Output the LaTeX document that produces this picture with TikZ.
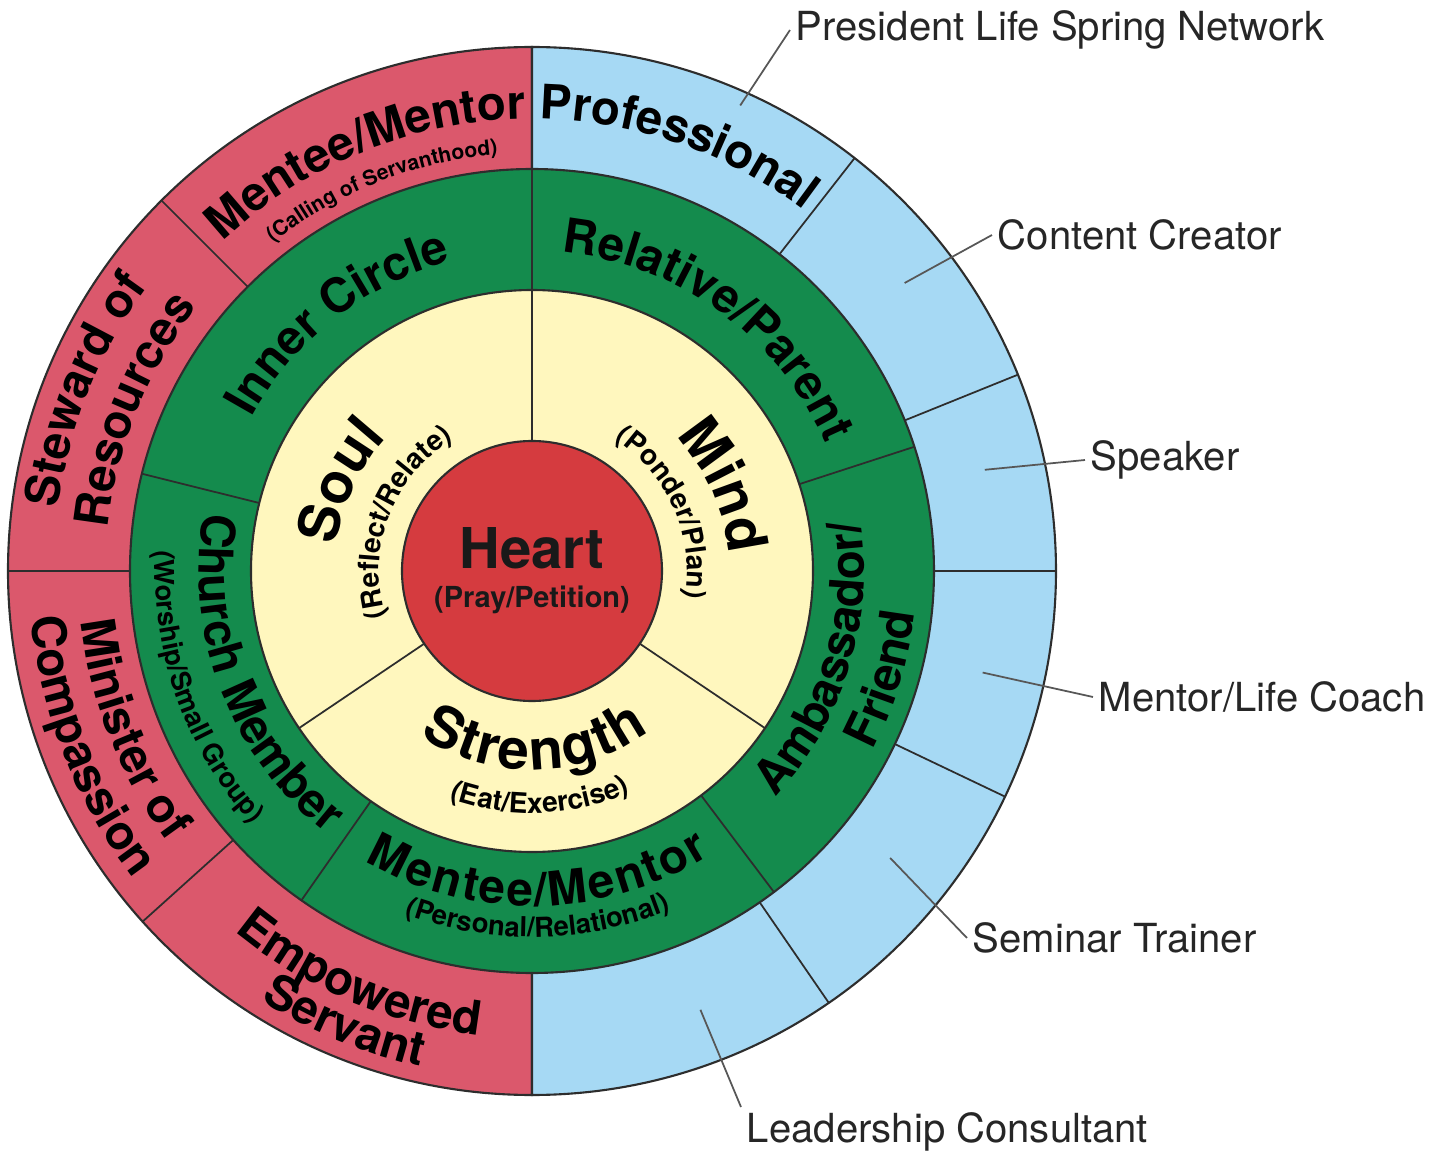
\documentclass[tikz,border=0pt]{standalone}
\usepackage{fontspec}
\setmainfont{TeX Gyre Heros}
\usetikzlibrary{decorations.text}

\definecolor{ringred}{RGB}{219,88,108}
\definecolor{ringblue}{RGB}{166,217,244}
\definecolor{ringgreen}{RGB}{20,139,77}
\definecolor{ringyellow}{RGB}{255,247,190}
\definecolor{heartred}{RGB}{213,59,63}
\definecolor{inkline}{RGB}{45,45,45}

\def\rheart{1.30}
\def\ryellow{2.81}
\def\rgreen{4.02}
\def\router{5.24}

\newcommand{\ringbold}{\bfseries\fontsize{13.5}{15}\selectfont}
\newcommand{\ringsmall}{\bfseries\fontsize{6}{7}\selectfont}
\newcommand{\greensmall}{\bfseries\fontsize{7.8}{9}\selectfont}
\newcommand{\corebold}{\bfseries\fontsize{16}{18}\selectfont}
\newcommand{\coresmall}{\bfseries\fontsize{8}{9.5}\selectfont}
\newcommand{\calltext}{\fontsize{11.4}{13}\selectfont}

\begin{document}
\begin{tikzpicture}
		\tikzstyle{divider}=[draw=inkline,line width=0.5pt]
		\tikzstyle{rim}=[draw=inkline,line width=0.6pt]
		\tikzstyle{pointer line}=[draw=inkline!80,line width=0.5pt]
		\tikzstyle{role}=[anchor=west,inner sep=1.5pt,font=\calltext,text=black!85]
		\tikzstyle{core}=[inner sep=0pt,text=black!90]
		\tikzset{arc text/.style={decorate,decoration={text along path,text align=center,text={#1}}}}

		\useasboundingbox (-5.32,-5.80) rectangle (9.13,5.71);

			% Draw the two outer halves
		\path[rim,fill=ringred] (90:\router) arc[start angle=90,end angle=270,radius=\router] -- cycle;
		\path[rim,fill=ringblue] (-90:\router) arc[start angle=-90,end angle=90,radius=\router] -- cycle;

			% Draw the inner rings
		\path[rim,fill=ringgreen] (0,0) circle (\rgreen);
		\path[rim,fill=ringyellow] (0,0) circle (\ryellow);

			% Split the rings
		\foreach \a in {90,214,-34}
		\draw[divider] (\a:\rheart) -- (\a:\ryellow);
		\foreach \a in {90,166,235,-53,18}
		\draw[divider] (\a:\ryellow) -- (\a:\rgreen);
		\foreach \a in {90,135,180,222,270,52,22,0,-25.5,-55.5}
		\draw[divider] (\a:\rgreen) -- (\a:\router);

			% Draw the heart
		\node[circle,rim,fill=heartred,minimum size=2.6cm,inner sep=0pt] (heart) at (0,0) {};
		\node[core,anchor=base,font=\corebold] (heart-title) at (0,0.03) {Heart};
		\node[core,anchor=base,font=\coresmall,scale=1.03] (heart-sub) at (0,-0.37) {(Pray/Petition)};

			% Outer ring, left half
		\path[arc text={|\ringbold|Mentee/Mentor}] (157:4.52) arc[start angle=157,end angle=67,radius=4.52];
		\path[arc text={|\ringsmall|(Calling of Servanthood)}] (156.5:4.18) arc[start angle=156.5,end angle=66.5,radius=4.18];
		\path[arc text={|\ringbold|Steward of}] (203:4.78) arc[start angle=203,end angle=113,radius=4.78];
		\path[arc text={|\ringbold|Resources}] (203:4.26) arc[start angle=203,end angle=113,radius=4.26];
		\path[arc text={|\ringbold|Minister of}] (151.5:4.54) arc[start angle=151.5,end angle=251.5,radius=4.54];
		\path[arc text={|\ringbold|Compassion}] (151.5:5.03) arc[start angle=151.5,end angle=251.5,radius=5.03];
		\path[arc text={|\ringbold|Empowered}] (197:4.67) arc[start angle=197,end angle=297,radius=4.67];
		\path[arc text={|\ringbold|Servant}] (197.5:5.08) arc[start angle=197.5,end angle=297.5,radius=5.08];

			% Outer ring, right half
		\path[arc text={|\ringbold|Professional}] (116:4.52) arc[start angle=116,end angle=26,radius=4.52];

			% Green ring
		\path[arc text={|\ringbold|Inner Circle}] (178:3.20) arc[start angle=178,end angle=78,radius=3.20];
		\path[arc text={|\ringbold|Relative/Parent}] (104:3.20) arc[start angle=104,end angle=4,radius=3.20];
		\path[arc text={|\ringbold|Ambassador/}] (-67:3.32) arc[start angle=-67,end angle=33,radius=3.32];
		\path[arc text={|\ringbold|Friend}] (-67:3.85) arc[start angle=-67,end angle=33,radius=3.85];
		\path[arc text={|\ringbold|Mentee/Mentor},decoration={raise=-0.28cm}] (221:3.07) arc[start angle=221,end angle=321,radius=3.07];
		\path[arc text={|\greensmall|(Personal/Relational)}] (221:3.66) arc[start angle=221,end angle=321,radius=3.66];
		\path[arc text={|\ringbold|Church Member}] (151:3.33) arc[start angle=151,end angle=251,radius=3.33];
		\path[arc text={|\greensmall|(Worship/Small Group)}] (149.5:3.77) arc[start angle=149.5,end angle=249.5,radius=3.77];

			% Yellow ring
		\path[arc text={|\corebold|Soul}] (215:1.97) arc[start angle=215,end angle=95,radius=1.97];
		\path[arc text={|\coresmall|(Reflect/Relate)}] (229:1.53) arc[start angle=229,end angle=89,radius=1.53];
		\path[arc text={|\corebold|Mind}] (84:1.97) arc[start angle=84,end angle=-36,radius=1.97];
		\path[arc text={|\coresmall|(Ponder/Plan)}] (94:1.55) arc[start angle=94,end angle=-46,radius=1.55];
		\path[arc text={|\corebold|Strength},decoration={raise=-0.13cm}] (211:1.86) arc[start angle=211,end angle=331,radius=1.86];
		\path[arc text={|\coresmall|(Eat/Exercise)}] (212:2.42) arc[start angle=212,end angle=332,radius=2.42];

			% Pin points inside the blue segments
		\foreach \name / \a / \r in {1/65.9/5.10,2/37.7/4.71,3/12.6/4.64,4/-12.7/4.62,5/-38.7/4.59,6/-69/4.70}
		\coordinate (P-\name) at (\a:\r);

			% Roles outside the circle
		\node[role] (R-1) at (2.58,5.41) {President Life Spring Network};
		\node[role] (R-2) at (4.60,3.36) {Content Creator};
		\node[role] (R-3) at (5.53,1.11) {Speaker};
		\node[role] (R-4) at (5.61,-1.26) {Mentor/Life Coach};
		\node[role] (R-5) at (4.35,-3.67) {Seminar Trainer};
		\node[role,anchor=north west] (R-6) at (2.09,-5.36) {Leadership Consultant};

		\foreach \name in {1,...,5}
		\draw[pointer line] (P-\name) -- (R-\name.west);
		\draw[pointer line] (P-6) -- (R-6.north west);
\end{tikzpicture}
\end{document}
